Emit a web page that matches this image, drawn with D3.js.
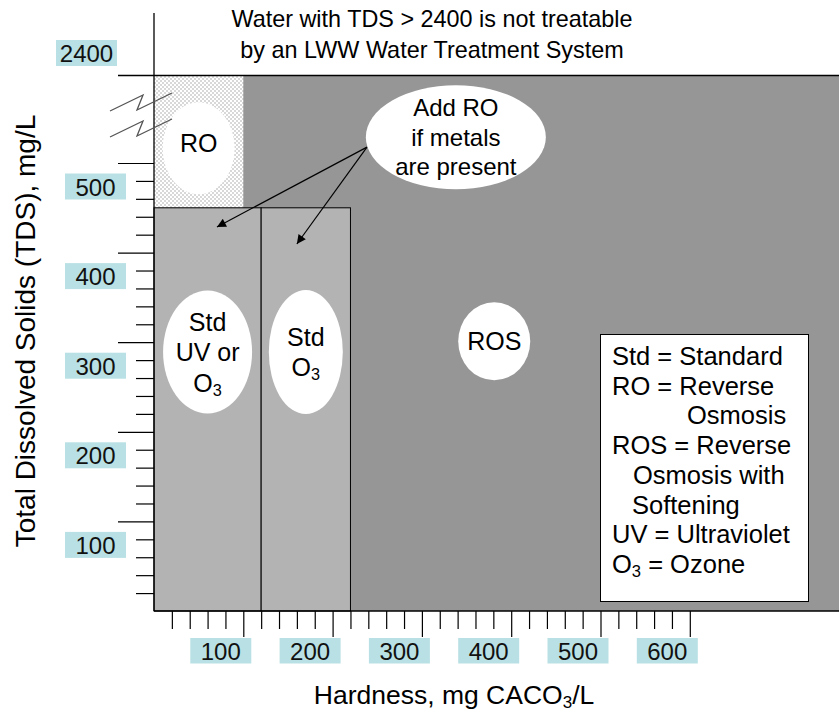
<!DOCTYPE html>
<html>
<head>
<meta charset="utf-8">
<script src="https://cdn.jsdelivr.net/npm/d3@7"></script>
<style>
  html, body { margin: 0; padding: 0; background: #fff; }
  svg { display: block; font-family: "Liberation Sans", Arial, sans-serif; }
</style>
</head>
<body>
<script>
// ---------------- DATA ----------------
// Treatment regions (hardness mg CaCO3/L, TDS mg/L)
const regionNames      = ["ROS", "RO", "Std UV or O3", "Std O3"];
const regionHardFrom   = [0,    0,    0,   120];
const regionHardTo     = [770,  100,  120, 220];
const regionTdsFrom    = [0,    450,  0,   0];
const regionTdsTo      = [2400, 2400, 450, 450];

// Axis ticks
const xMajorTicks = [100, 200, 300, 400, 500, 600];
const xMinorTicks = d3.range(20, 601, 20).filter(v => v % 100 !== 0);
const yMajorTicks = [100, 200, 300, 400, 500];
const yMinorTicks = d3.range(20, 501, 20).filter(v => v % 100 !== 0);
const yBreakValue = 2400;

// Texts
const titleLines  = ["Water with TDS > 2400 is not treatable", "by an LWW Water Treatment System"];
const legendLines = ["Std = Standard", "RO = Reverse", "Osmosis", "ROS = Reverse", "Osmosis with", "Softening", "UV = Ultraviolet", "O3 = Ozone"];

// ---------------- LAYOUT ----------------
const W = 839, H = 713;
const svg = d3.select("body").append("svg").attr("width", W).attr("height", H);

const x = d3.scaleLinear().domain([0, 100]).range([154, 243.3]);
const y = d3.scaleLinear().domain([0, 500, 2400]).range([611, 163, 75.5]);

const TEAL = "#b9e0e4";
const FONT = 24;

// dotted pattern for RO
const defs = svg.append("defs");
const pat = defs.append("pattern").attr("id", "dots").attr("patternUnits", "userSpaceOnUse")
  .attr("width", 4).attr("height", 4);
pat.append("rect").attr("width", 4).attr("height", 4).attr("fill", "#fff");
pat.append("rect").attr("x", 0.5).attr("y", 0.5).attr("width", 1).attr("height", 1).attr("fill", "#666");
pat.append("rect").attr("x", 2.5).attr("y", 2.5).attr("width", 1).attr("height", 1).attr("fill", "#666");

defs.append("marker").attr("id", "arrow").attr("viewBox", "0 0 10 10")
  .attr("refX", 10).attr("refY", 5).attr("markerWidth", 11).attr("markerHeight", 9)
  .attr("markerUnits", "userSpaceOnUse").attr("orient", "auto")
  .append("path").attr("d", "M0,0 L10,5 L0,10 Z").attr("fill", "#000");

const regionFill   = ["#969696", "url(#dots)", "#b3b3b3", "#b3b3b3"];
const regionStroke = ["none", "none", "#000", "#000"];

svg.append("g").selectAll("rect").data(regionNames).join("rect")
  .attr("x", (d, i) => x(regionHardFrom[i]))
  .attr("y", (d, i) => y(regionTdsTo[i]))
  .attr("width", (d, i) => x(regionHardTo[i]) - x(regionHardFrom[i]))
  .attr("height", (d, i) => y(regionTdsFrom[i]) - y(regionTdsTo[i]))
  .attr("fill", (d, i) => regionFill[i])
  .attr("stroke", (d, i) => regionStroke[i])
  .attr("stroke-width", 1);

// ---- ellipses with labels (center in data units, radii in px) ----
const bubbles = [
  { cx: 50,  cy: 820,  rx: 36, ry: 46, lines: ["RO"], dy: -5, size: 25 },
  { cx: 338, cy: 1060, rx: 90, ry: 52, lines: ["Add RO", "if metals", "are present"], dy: 0, size: 24 },
  { cx: 60,  cy: 289,  rx: 44.5, ry: 61.5, lines: ["Std", "UV or", "O3"], dy: 0, size: 25 },
  { cx: 170, cy: 289,  rx: 37, ry: 62, lines: ["Std", "O3"], dy: 0, size: 25 },
  { cx: 381, cy: 301,  rx: 36, ry: 39, lines: ["ROS"], dy: 0, size: 25 }
];

function addRich(textSel, str, size) {
  const m = str.match(/^(.*?)O3(.*)$/);
  if (m) {
    if (m[1]) textSel.append("tspan").text(m[1]);
    textSel.append("tspan").text("O");
    textSel.append("tspan").attr("font-size", size * 0.65).attr("dy", size * 0.28).text("3");
    if (m[2]) textSel.append("tspan").attr("dy", -size * 0.28).text(m[2]);
  } else {
    textSel.text(str);
  }
}

const bG = svg.append("g");
bubbles.forEach(b => {
  const cx = x(b.cx), cy = y(b.cy);
  bG.append("ellipse").attr("cx", cx).attr("cy", cy).attr("rx", b.rx).attr("ry", b.ry).attr("fill", "#fff");
  const lh = b.size * 1.22;
  b.lines.forEach((ln, k) => {
    const t = bG.append("text").attr("x", cx).attr("y", cy + b.dy + (k - (b.lines.length - 1) / 2) * lh)
      .attr("text-anchor", "middle").attr("dominant-baseline", "central")
      .attr("font-size", b.size).attr("fill", "#000");
    addRich(t, ln, b.size);
  });
});

// ---- arrows from "Add RO" bubble ----
const arrowFrom = [238.5, 845];
const arrowTo = [[70.5, 428.6], [160, 409.6]];
arrowTo.forEach(p => {
  svg.append("line").attr("x1", x(arrowFrom[0])).attr("y1", y(arrowFrom[1]))
    .attr("x2", x(p[0])).attr("y2", y(p[1]))
    .attr("stroke", "#000").attr("stroke-width", 1.2).attr("marker-end", "url(#arrow)");
});

// ---- legend box ----
const lg = svg.append("g");
lg.append("rect").attr("x", 600.5).attr("y", 334.5).attr("width", 208).attr("height", 267)
  .attr("fill", "#fff").attr("stroke", "#000").attr("stroke-width", 1);
const legendIndent = [0, 0, 75, 0, 21, 20, 0, 0];
legendLines.forEach((ln, k) => {
  const t = lg.append("text").attr("x", 612 + legendIndent[k]).attr("y", 356 + k * 29.7)
    .attr("dominant-baseline", "central").attr("font-size", 25.5).attr("fill", "#000");
  addRich(t, ln, 25.5);
});

// ---- axes ----
const axG = svg.append("g");
axG.append("line").attr("x1", 154).attr("x2", 154).attr("y1", 13).attr("y2", y(0))
  .attr("stroke", "#000").attr("stroke-width", 1.3);
axG.append("line").attr("x1", 118).attr("x2", W).attr("y1", y(yBreakValue)).attr("y2", y(yBreakValue))
  .attr("stroke", "#000").attr("stroke-width", 1.3);
axG.append("line").attr("x1", 154).attr("x2", W).attr("y1", y(0)).attr("y2", y(0))
  .attr("stroke", "#000").attr("stroke-width", 1.3);

function styleAxis(g) {
  g.select(".domain").remove();
  g.selectAll(".tick line").attr("stroke", "#000").attr("stroke-width", 1.2);
  g.selectAll(".tick text").remove();
}
axG.append("g").attr("transform", "translate(154,0)")
  .call(d3.axisLeft(y).tickValues(yMinorTicks).tickSize(18).tickFormat("")).call(styleAxis);
axG.append("g").attr("transform", "translate(154,0)")
  .call(d3.axisLeft(y).tickValues(yMajorTicks).tickSize(36).tickFormat("")).call(styleAxis);
axG.append("g").attr("transform", `translate(0,${y(0)})`)
  .call(d3.axisBottom(x).tickValues(xMinorTicks).tickSize(18).tickFormat("")).call(styleAxis);
axG.append("g").attr("transform", `translate(0,${y(0)})`)
  .call(d3.axisBottom(x).tickValues(xMajorTicks).tickSize(26).tickFormat("")).call(styleAxis);

// axis break zig-zags
const zig = [[-44, 0], [-11, -16], [-17, -1], [18, -18]];
[111, 137].forEach(yy => {
  axG.append("path")
    .attr("d", d3.line()(zig.map(p => [154 + p[0], yy + p[1]])))
    .attr("fill", "none").attr("stroke", "#555").attr("stroke-width", 1.3);
});

// tick label boxes
const lbl = svg.append("g");
xMajorTicks.forEach(v => {
  const cx = x(v) - 22.5;
  lbl.append("rect").attr("x", cx - 30.5).attr("y", 638).attr("width", 61).attr("height", 25.5).attr("fill", TEAL);
  lbl.append("text").attr("x", cx).attr("y", 651).attr("text-anchor", "middle")
    .attr("dominant-baseline", "central").attr("font-size", FONT).attr("fill", "#111").text(v);
});
yMajorTicks.forEach(v => {
  const cy = y(v) + 23.5;
  lbl.append("rect").attr("x", 65).attr("y", cy - 13).attr("width", 61).attr("height", 26).attr("fill", TEAL);
  lbl.append("text").attr("x", 95.5).attr("y", cy + 0.5).attr("text-anchor", "middle")
    .attr("dominant-baseline", "central").attr("font-size", FONT).attr("fill", "#111").text(v);
});
{
  const cy = y(yBreakValue) - 22.5;
  lbl.append("rect").attr("x", 56).attr("y", cy - 13).attr("width", 61).attr("height", 26).attr("fill", TEAL);
  lbl.append("text").attr("x", 86.5).attr("y", cy + 0.5).attr("text-anchor", "middle")
    .attr("dominant-baseline", "central").attr("font-size", FONT).attr("fill", "#111").text(yBreakValue);
}

// ---- titles ----
titleLines.forEach((ln, k) => {
  svg.append("text").attr("x", 432).attr("y", 19 + k * 31).attr("text-anchor", "middle")
    .attr("dominant-baseline", "central").attr("font-size", 23.4).attr("fill", "#000").text(ln);
});

const xt = svg.append("text").attr("x", 454).attr("y", 695).attr("text-anchor", "middle")
  .attr("dominant-baseline", "central").attr("font-size", 26.5).attr("fill", "#000");
xt.append("tspan").text("Hardness, mg CACO");
xt.append("tspan").attr("font-size", 17).attr("dy", 7).text("3");
xt.append("tspan").attr("dy", -7).text("/L");

svg.append("text").attr("transform", "translate(25,331) rotate(-90)").attr("text-anchor", "middle")
  .attr("dominant-baseline", "central").attr("font-size", 28).attr("fill", "#000")
  .text("Total Dissolved Solids (TDS), mg/L");
</script>
</body>
</html>
